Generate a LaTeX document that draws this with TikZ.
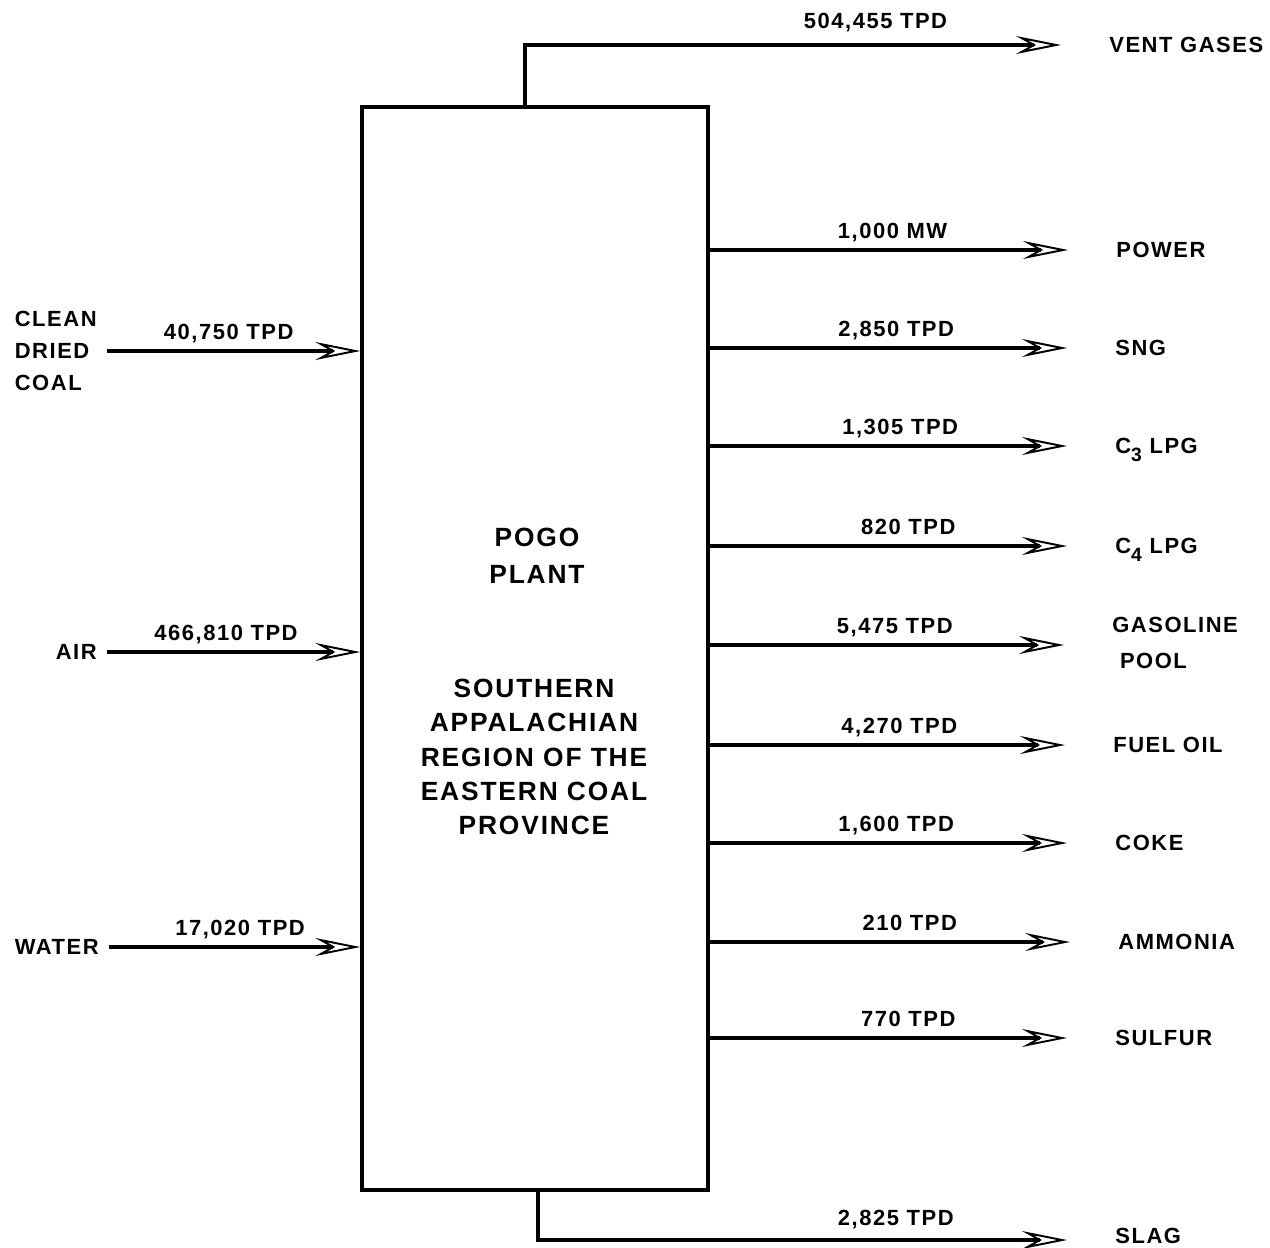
\documentclass[tikz,border=0pt]{standalone}
\usepackage{fontspec}
\setmainfont{Liberation Sans}[LetterSpace=7]
\usetikzlibrary{arrows.meta,positioning}

\begin{document}
\begin{tikzpicture}[
  x=0.02cm, y=-0.02cm,
  every node/.style={font=\fontsize{12.5}{15}\selectfont\bfseries, inner sep=0pt},
  flow/.style={line width=2pt,
    -{Stealth[open, length=0.9cm, width=0.36cm, inset=0.32cm, line width=1.1pt]}},
  outflow/.style={flow, shorten >=0.96cm},
  inflow/.style={flow, shorten <=0.2cm},
  rate/.style={above=5.5pt, text height=9pt, text depth=0pt},
  product/.style={anchor=west, text height=9pt, text depth=0pt},
  feed/.style={anchor=east, text height=9pt, text depth=0pt}
]
  \useasboundingbox (0,0) rectangle (1270,1247);

  % Plant
  \node[draw, line width=2pt, minimum width=6.92cm, minimum height=21.66cm]
    (plant) at (535,648.5) {};
  \node[align=center, font=\fontsize{15}{21}\selectfont\bfseries]
    (pogo) at (537,556) {POGO\\PLANT};
  \node[align=center, font=\fontsize{15}{19.6}\selectfont\bfseries]
    (region) at (534,757) {SOUTHERN\\APPALACHIAN\\REGION OF THE\\EASTERN COAL\\PROVINCE};

  % Feeds
  \node[anchor=east, align=left, font=\fontsize{12.5}{18}\selectfont\bfseries]
    (coal) at (97,351) {CLEAN\\DRIED\\COAL};
  \node[feed] (air) at (97,652) {AIR};
  \node[feed] (water) at (99,947) {WATER};

  % Products
  \node[product] (vent) at (1109,45) {VENT GASES};
  \node[product] (power) at (1116,250) {POWER};
  \node[product] (sng) at (1115,348) {SNG};
  \node[product] (cthree) at (1115,446)
    {C\raisebox{-4.5pt}{\fontsize{11}{11}\selectfont 3} LPG};
  \node[product] (cfour) at (1115,546)
    {C\raisebox{-4.5pt}{\fontsize{11}{11}\selectfont 4} LPG};
  \node[anchor=west, align=left, font=\fontsize{12.5}{20.4}\selectfont\bfseries]
    (gasoline) at (1112,643) {GASOLINE\\\ POOL};
  \node[product] (fueloil) at (1113,745) {FUEL OIL};
  \node[product] (coke) at (1115,843) {COKE};
  \node[product] (ammonia) at (1118,942) {AMMONIA};
  \node[product] (sulfur) at (1115,1038) {SULFUR};
  \node[product] (slag) at (1115,1236) {SLAG};

  % Feed arrows
  \draw[inflow] (coal.east |- 0,351) -- node[rate, pos=0.5] {40,750 TPD} (plant.west |- 0,351);
  \draw[inflow] (air.east) -- node[rate, pos=0.49] {466,810 TPD} (plant.west |- air.east);
  \draw[inflow] (water.east) -- node[rate, pos=0.54] {17,020 TPD} (plant.west |- water.east);

  % Product arrows
  \draw[outflow] ([xshift=3.3cm]plant.north west) |- node[above=8.5pt, pos=0.8, text height=9pt, text depth=0pt]
    {504,455 TPD} (vent.west);
  \draw[outflow] (plant.east |- power.west) -- node[rate, pos=0.45] {1,000 MW} (power.west);
  \draw[outflow] (plant.east |- sng.west) -- node[rate, pos=0.46] {2,850 TPD} (sng.west);
  \draw[outflow] (plant.east |- cthree.west) -- node[rate, pos=0.47] {1,305 TPD} (cthree.west);
  \draw[outflow] (plant.east |- cfour.west) -- node[rate, pos=0.49] {820 TPD} (cfour.west);
  \draw[outflow] (plant.east |- 0,645) -- node[rate, pos=0.46] {5,475 TPD} (gasoline.west |- 0,645);
  \draw[outflow] (plant.east |- fueloil.west) -- node[rate, pos=0.47] {4,270 TPD} (fueloil.west);
  \draw[outflow] (plant.east |- coke.west) -- node[rate, pos=0.46] {1,600 TPD} (coke.west);
  \draw[outflow] (plant.east |- ammonia.west) -- node[rate, pos=0.49] {210 TPD} (ammonia.west);
  \draw[outflow] (plant.east |- sulfur.west) -- node[rate, pos=0.49] {770 TPD} (sulfur.west);
  \draw[outflow] ([xshift=3.56cm]plant.south west) |- node[above=7pt, pos=0.81, text height=9pt, text depth=0pt]
    {2,825 TPD} (slag.west |- 0,1240);
\end{tikzpicture}
\end{document}
